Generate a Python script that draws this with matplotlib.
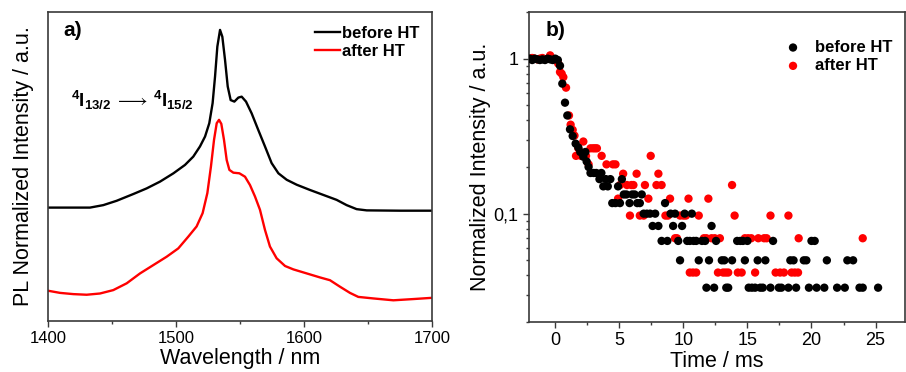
import matplotlib.pyplot as plt
from matplotlib.ticker import FixedLocator, MultipleLocator, LogLocator, NullFormatter

# ---- panel a: PL spectra (offset, normalized, arbitrary units) ----
wl_before = [1400, 1414.6, 1432.8, 1443.2, 1453.6, 1466.7, 1477, 1487.5, 1498, 1507, 1513.5,
             1518.75, 1522.7, 1526, 1528.6, 1530.5, 1532.3, 1534.4, 1536.2, 1538.3, 1540.4,
             1542.7, 1545.6, 1548.7, 1551.3, 1554.7, 1559.1, 1564.3, 1569.5, 1574.7, 1580,
             1586.5, 1594.3, 1604.7, 1615.1, 1625.5, 1633.3, 1641.1, 1649, 1675, 1700]
pl_before = [0.367, 0.367, 0.367, 0.375, 0.389, 0.411, 0.429, 0.451, 0.478, 0.505, 0.532,
             0.565, 0.597, 0.640, 0.705, 0.791, 0.888, 0.942, 0.920, 0.845, 0.759,
             0.715, 0.710, 0.723, 0.726, 0.710, 0.672, 0.618, 0.565, 0.511, 0.478,
             0.457, 0.441, 0.424, 0.408, 0.392, 0.375, 0.362, 0.358, 0.357, 0.357]

wl_after = [1400, 1409.4, 1419.8, 1430.2, 1440.6, 1451, 1461.5, 1471.9, 1482.3, 1492.7, 1501.8,
            1509.6, 1516.1, 1520.8, 1524.5, 1527.3, 1529.7, 1531.8, 1533.6, 1535.4, 1537.5,
            1539.6, 1541.7, 1544.8, 1549.5, 1553.9, 1557.8, 1561.7, 1565.6, 1569.5, 1573.4,
            1578.6, 1585.2, 1591.7, 1602.1, 1612.5, 1620.3, 1628.1, 1635.9, 1642.4, 1654.2,
            1669.8, 1685.4, 1700]
pl_after = [0.098, 0.091, 0.087, 0.085, 0.089, 0.100, 0.122, 0.154, 0.181, 0.208, 0.235,
            0.273, 0.306, 0.349, 0.414, 0.500, 0.586, 0.640, 0.651, 0.638, 0.586,
            0.521, 0.489, 0.480, 0.478, 0.467, 0.440, 0.403, 0.360, 0.295, 0.241,
            0.203, 0.178, 0.167, 0.154, 0.141, 0.132, 0.111, 0.091, 0.078, 0.073,
            0.067, 0.071, 0.075]

# ---- panel b: PL decay ----
before_t = [-2.0, -1.8, -1.6, -1.4, -1.2, -1.0, -0.8, -0.6, -0.4, -0.2, 0.0, 0.2,
            0.37, 0.55, 0.76, 0.94, 1.15, 1.36, 1.59, 1.80, 1.95, 2.19, 2.35, 2.45, 2.6, 2.75,
            3.0, 3.2, 3.45, 3.6, 3.75, 3.95, 4.1, 4.3, 4.45, 4.7, 4.9, 5.05, 5.2, 5.35, 5.55,
            5.8, 6.0, 6.2, 6.4, 6.6, 6.75, 6.9, 7.15, 7.4, 7.6, 7.8, 8.05, 8.3, 8.57, 8.75,
            9.0, 9.2, 9.35, 9.6, 9.74, 9.9, 10.1, 10.3, 10.5, 10.66, 10.8, 11.0, 11.2, 11.45,
            11.7, 11.8, 12.0, 12.2, 12.4, 12.55, 13.0, 13.2, 13.35, 13.5, 13.8, 14.2, 14.45,
            14.65, 14.8, 15.0, 15.1, 15.35, 15.6, 15.8, 16.0, 16.2, 16.4, 16.8, 17.0, 17.45,
            17.65, 18.2, 18.35, 18.6, 18.8, 19.4, 19.6, 19.8, 20.0, 20.25, 20.4, 21.0, 21.2,
            22.0, 22.6, 22.8, 23.25, 23.75, 24.0, 25.2]
before_i = [1.0, 0.98, 1.0, 0.99, 0.98, 0.99, 0.98, 1.0, 0.99, 0.98, 1.0, 0.98,
            0.90, 0.69, 0.52, 0.43, 0.35, 0.317, 0.283, 0.267, 0.25, 0.233, 0.25, 0.217, 0.2, 0.183,
            0.183, 0.183, 0.167, 0.183, 0.15, 0.167, 0.15, 0.167, 0.117, 0.117, 0.15, 0.117, 0.167, 0.133, 0.133,
            0.117, 0.133, 0.133, 0.117, 0.117, 0.133, 0.1, 0.1, 0.1, 0.0833, 0.1, 0.0833, 0.0667, 0.117, 0.0667,
            0.1, 0.0833, 0.1, 0.0667, 0.05, 0.0833, 0.1, 0.0667, 0.0667, 0.1, 0.0667, 0.0667, 0.05, 0.0667,
            0.0667, 0.0333, 0.05, 0.0833, 0.0333, 0.0667, 0.05, 0.05, 0.0333, 0.0333, 0.05, 0.0667, 0.0667,
            0.0667, 0.05, 0.0667, 0.0333, 0.0333, 0.0333, 0.05, 0.0333, 0.0333, 0.05, 0.0333, 0.0667, 0.0333,
            0.0333, 0.0333, 0.05, 0.05, 0.0333, 0.05, 0.05, 0.0333, 0.0667, 0.0667, 0.0333, 0.0333, 0.05,
            0.0333, 0.0333, 0.05, 0.05, 0.0333, 0.0333, 0.0333]

after_t = [-2.0, -1.8, -1.6, -1.4, -1.2, -1.0, -0.8, -0.6, -0.4, -0.2, 0.0, 0.23,
           0.37, 0.5, 0.63, 0.84, 1.07, 1.2, 1.36, 1.5, 1.62, 1.8, 2.0, 2.19, 2.4, 2.6, 2.75,
           2.95, 3.1, 3.25, 3.62, 4.0, 4.5, 4.7, 4.9, 5.05, 5.3, 5.6, 5.83, 5.95, 6.1, 6.35,
           6.6, 6.9, 7.0, 7.27, 7.45, 7.9, 8.05, 8.3, 8.6, 8.8, 8.96, 9.35, 9.5, 9.74, 10.0,
           10.2, 10.4, 10.5, 10.75, 11.0, 11.2, 11.6, 11.8, 11.95, 12.2, 12.45, 12.7, 12.85,
           13.1, 13.3, 13.5, 13.8, 14.0, 14.25, 14.55, 14.8, 15.05, 15.3, 15.6, 15.85, 16.3,
           16.5, 16.8, 17.2, 17.55, 17.85, 18.2, 18.45, 18.7, 18.95, 19.0, 24.0]
after_i = [1.0, 1.01, 1.0, 0.99, 1.0, 1.01, 0.99, 1.0, 1.05, 1.0, 0.99, 0.93,
           0.82, 0.80, 0.76, 0.65, 0.43, 0.375, 0.347, 0.319, 0.236, 0.264, 0.236, 0.292, 0.236, 0.208, 0.264,
           0.264, 0.264, 0.264, 0.236, 0.208, 0.208, 0.208, 0.125, 0.153, 0.181, 0.153, 0.0972, 0.153, 0.153, 0.181,
           0.0972, 0.0972, 0.153, 0.125, 0.236, 0.153, 0.181, 0.153, 0.0972, 0.0972, 0.125, 0.0694, 0.0694, 0.0972, 0.0972,
           0.0972, 0.125, 0.0417, 0.0417, 0.0417, 0.0972, 0.0694, 0.0694, 0.125, 0.0694, 0.0694, 0.0417, 0.0694,
           0.0417, 0.0417, 0.0417, 0.153, 0.0972, 0.0417, 0.0417, 0.0694, 0.0694, 0.0694, 0.0417, 0.0694, 0.0694,
           0.0694, 0.0972, 0.0417, 0.0417, 0.0417, 0.0972, 0.0417, 0.0417, 0.0417, 0.0694, 0.0694]

plt.rcParams["font.family"] = ["Liberation Sans", "DejaVu Sans"]
plt.rcParams["mathtext.fontset"] = "custom"
plt.rcParams["mathtext.rm"] = "Liberation Sans"
plt.rcParams["mathtext.bf"] = "Liberation Sans:bold"

spine_color = "#3a3a3a"

fig = plt.figure(figsize=(9.06, 3.72), dpi=100)
ax_a = fig.add_axes([48 / 906, 1 - 321 / 372, 384 / 906, 309 / 372])
ax_b = fig.add_axes([529 / 906, 1 - 322 / 372, 376 / 906, 310 / 372])

for ax in (ax_a, ax_b):
    for spine in ax.spines.values():
        spine.set_color(spine_color)
        spine.set_linewidth(1.2)
    ax.tick_params(which="both", direction="out", color=spine_color, width=1.0)
    ax.tick_params(which="major", length=4)
    ax.tick_params(which="minor", length=2.5)

# panel a
ax_a.plot(wl_before, pl_before, color="black", lw=1.7, label="before HT")
ax_a.plot(wl_after, pl_after, color="red", lw=1.7, label="after HT")
ax_a.set_xlim(1400, 1700)
ax_a.set_ylim(0, 1)
ax_a.xaxis.set_major_locator(MultipleLocator(100))
ax_a.xaxis.set_minor_locator(MultipleLocator(50))
ax_a.set_yticks([])
ax_a.tick_params(axis="x", labelsize=12)
ax_a.set_xlabel("Wavelength / nm", fontsize=15.5, labelpad=1)
ax_a.set_ylabel("PL Normalized Intensity / a.u.", fontsize=15.5, labelpad=10)
ax_a.text(0.04, 0.94, "a)", transform=ax_a.transAxes, fontsize=15,
          fontweight="bold", va="center", ha="left")
ax_a.text(0.06, 0.715, r"$\mathbf{^{4}I_{13/2}}\,\longrightarrow\,\mathbf{^{4}I_{15/2}}$",
          transform=ax_a.transAxes, fontsize=13.5, va="center", ha="left")
ax_a.legend(loc="upper left", bbox_to_anchor=(0.695, 0.955), frameon=False,
            borderaxespad=0, borderpad=0, handlelength=1.5, handletextpad=0.1,
            labelspacing=0.2, prop={"size": 12, "weight": "bold"})

# panel b
ax_b.scatter(before_t, before_i, s=36, color="black", edgecolors="none", label="before HT", zorder=3)
ax_b.scatter(after_t, after_i, s=36, color="red", edgecolors="none", label="after HT", zorder=2)
ax_b.set_yscale("log")
ax_b.set_xlim(-2.05, 27.3)
ax_b.set_ylim(0.02, 2)
ax_b.xaxis.set_major_locator(MultipleLocator(5))
ax_b.xaxis.set_minor_locator(MultipleLocator(2.5))
ax_b.yaxis.set_major_locator(FixedLocator([0.1, 1]))
ax_b.set_yticklabels(["0,1", "1"])
ax_b.yaxis.set_minor_locator(LogLocator(base=10, subs=[2, 3, 4, 5, 6, 7, 8, 9]))
ax_b.yaxis.set_minor_formatter(NullFormatter())
ax_b.tick_params(axis="both", labelsize=13)
ax_b.set_xlabel("Time / ms", fontsize=15.5, labelpad=1)
ax_b.set_ylabel("Normalized Intensity / a.u.", fontsize=15.5, labelpad=2)
ax_b.text(0.045, 0.94, "b)", transform=ax_b.transAxes, fontsize=15,
          fontweight="bold", va="center", ha="left")
ax_b.legend(loc="upper left", bbox_to_anchor=(0.68, 0.91), frameon=False,
            borderaxespad=0, borderpad=0, handlelength=1.0, handletextpad=0.8,
            labelspacing=0.2, prop={"size": 12, "weight": "bold"})

fig.savefig("out.png", dpi=100)
